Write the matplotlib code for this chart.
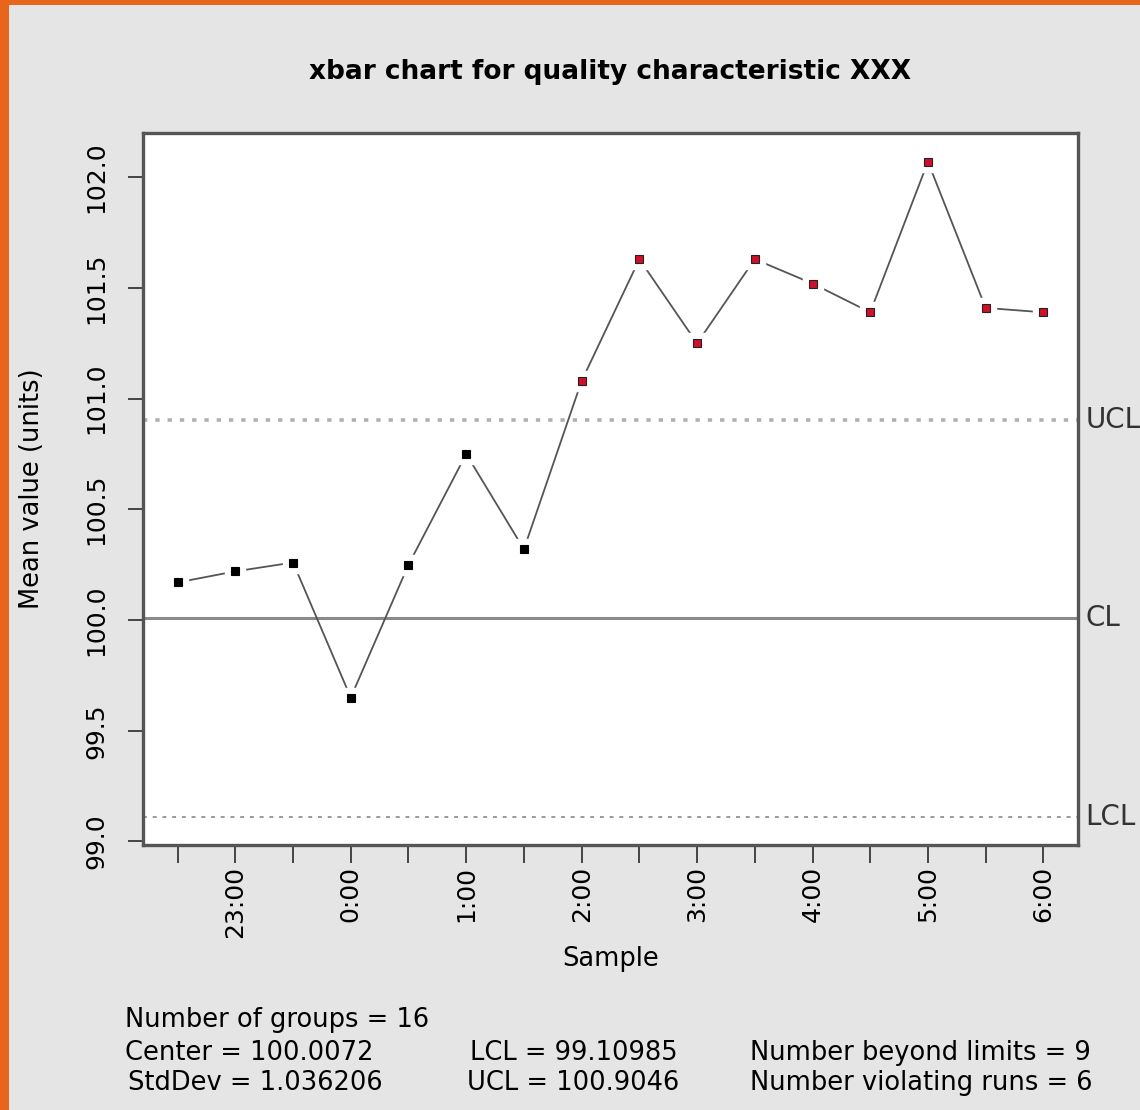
import matplotlib
matplotlib.use("Agg")
import matplotlib.pyplot as plt
from matplotlib.patches import Rectangle

# subgroup means, one per sample
samples = list(range(16))
means = [100.17, 100.22, 100.26, 99.65, 100.25, 100.75, 100.32, 101.08,
         101.63, 101.25, 101.63, 101.52, 101.39, 102.07, 101.41, 101.39]
tick_labels = ["", "23:00", "", "0:00", "", "1:00", "", "2:00",
               "", "3:00", "", "4:00", "", "5:00", "", "6:00"]

center = 100.0072
lcl = 99.10985
ucl = 100.9046
stddev = 1.036206
n_beyond = 9
n_runs = 6

fig = plt.figure(figsize=(11.4, 11.1), dpi=100)
fig.patch.set_facecolor("#e8661c")
# slide frame: orange edge, gray panel
fig.patches.append(Rectangle((9 / 1140, 0), 1, 1 - 5 / 1110,
                             transform=fig.transFigure, facecolor="#e5e5e5",
                             edgecolor="none", zorder=-1))

ax = fig.add_axes([143 / 1140, 1 - 845 / 1110, (1078 - 143) / 1140, (845 - 133) / 1110])
ax.set_facecolor("white")

# control limits
ax.axhline(center, color="#8a8a8a", lw=2.2, zorder=1)
ax.axhline(ucl, color="#b0b0b0", lw=2.6, ls=(0, (1.2, 2.2)), zorder=1)
ax.axhline(lcl, color="#9a9a9a", lw=1.4, ls=(0, (2, 3)), zorder=1)

# line with gaps around the points
ax.plot(samples, means, color="#555555", lw=1.3, zorder=2)
ax.plot(samples, means, ls="none", marker="s", ms=15, color="white", zorder=3)

cols = ["#d0102a" if (m > ucl or m < lcl) else "black" for m in means]
for x, y, c in zip(samples, means, cols):
    ax.plot(x, y, ls="none", marker="s", ms=6, mfc=c, mec="#222222" if c != "black" else "black",
            mew=0.8, zorder=4)

ax.set_xlim(-0.6, 15.6)
ax.set_ylim(98.984, 102.2)
ax.set_xticks(samples)
ax.set_xticklabels(tick_labels, rotation=90, fontsize=18)
ax.set_yticks([99.0, 99.5, 100.0, 100.5, 101.0, 101.5, 102.0])
ax.set_yticklabels(["99.0", "99.5", "100.0", "100.5", "101.0", "101.5", "102.0"],
                   rotation=90, va="center", fontsize=18)
ax.tick_params(axis="x", length=13, width=1.4, color="#444444", pad=2)
ax.tick_params(axis="y", length=11, width=1.4, color="#444444", pad=14)
for s in ax.spines.values():
    s.set_color("#555555")
    s.set_linewidth(2.4)

# limit labels to the right of the panel
for val, lab in [(ucl, "UCL"), (center, "CL"), (lcl, "LCL")]:
    ax.text(1.008, val, lab, transform=ax.get_yaxis_transform(), va="center",
            ha="left", fontsize=20, color="#333333", clip_on=False)

ax.set_title("xbar chart for quality characteristic XXX", fontsize=19,
             fontweight="bold", pad=39)
ax.set_ylabel("Mean value (units)", fontsize=18.5, labelpad=28)
ax.set_xlabel("Sample", fontsize=18.5, labelpad=6)

# summary block under the chart
fs = 18.5
fig.text(125 / 1140, 1 - 1020 / 1110, f"Number of groups = {len(means)}", fontsize=fs, va="center")
fig.text(125 / 1140, 1 - 1053 / 1110, f"Center = {center}", fontsize=fs, va="center")
fig.text(128 / 1140, 1 - 1083 / 1110, f"StdDev = {stddev}", fontsize=fs, va="center")
fig.text(470 / 1140, 1 - 1053 / 1110, f"LCL = {lcl}", fontsize=fs, va="center")
fig.text(467 / 1140, 1 - 1083 / 1110, f"UCL = {ucl}", fontsize=fs, va="center")
fig.text(750 / 1140, 1 - 1053 / 1110, f"Number beyond limits = {n_beyond}", fontsize=fs, va="center")
fig.text(750 / 1140, 1 - 1083 / 1110, f"Number violating runs = {n_runs}", fontsize=fs, va="center")

fig.savefig("out.png", dpi=100, facecolor=fig.get_facecolor())
